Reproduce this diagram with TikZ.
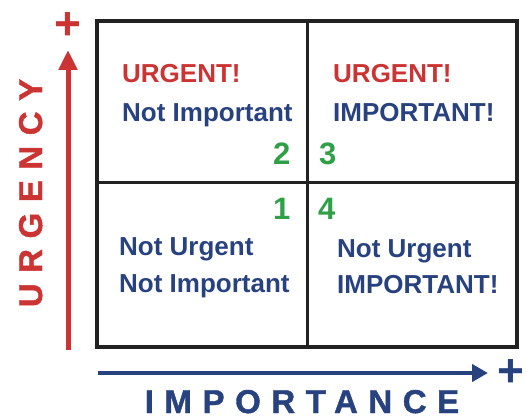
\documentclass[tikz,border=0pt]{standalone}
\usepackage{fontspec}
\setmainfont{Liberation Sans}
\usetikzlibrary{arrows.meta}

\definecolor{urgred}{RGB}{204,52,52}
\definecolor{impblue}{RGB}{40,66,128}
\definecolor{numgreen}{RGB}{48,160,72}
\definecolor{gridline}{RGB}{34,34,34}

\tikzset{
  quad/.style={anchor=base west, inner sep=0pt, font=\fontsize{26}{26}\selectfont\bfseries},
  num/.style={anchor=base west, inner sep=0pt, text=numgreen, font=\fontsize{31}{31}\selectfont\bfseries},
  axislabel/.style={anchor=base, inner sep=0pt, font=\fontsize{33}{33}\selectfont\bfseries\addfontfeature{LetterSpace=32,FakeBold=1.2}},
  plus/.style={inner sep=0pt, font=\fontsize{46}{46}\selectfont\bfseries},
}

\begin{document}
\begin{tikzpicture}[x=1pt, y=-1pt]
            \useasboundingbox (0,0) rectangle (526,419);

            % 四象限网格
            \draw[gridline, line width=4pt] (97,21) rectangle (517,347);
            \draw[gridline, line width=3pt] (307,21) -- (307,347);
            \draw[gridline, line width=3pt] (97,183) -- (517,183);

            % 左上: 紧急 不重要
            \node[quad, text=urgred] (tlA) at (122,83) {URGENT!};
            \node[quad, text=impblue] (tlB) at (122,122) {Not Important};

            % 右上: 紧急 重要
            \node[quad, text=urgred] (trA) at (333,83) {URGENT!};
            \node[quad, text=impblue] (trB) at (333,122) {IMPORTANT!};

            % 左下: 不紧急 不重要
            \node[quad, text=impblue] (blA) at (119,255) {Not Urgent};
            \node[quad, text=impblue] (blB) at (119,292) {Not Important};

            % 右下: 不紧急 重要
            \node[quad, text=impblue] (brA) at (337,257) {Not Urgent};
            \node[quad, text=impblue] (brB) at (337,293) {IMPORTANT!};

            % 象限编号
            \node[num] (n2) at (273,165) {2};
            \node[num] (n3) at (319,165) {3};
            \node[num] (n1) at (273,220) {1};
            \node[num] (n4) at (318,220) {4};

            % 纵轴: 紧急程度
            \coordinate (uLow) at (68,350);
            \coordinate (uHigh) at (68,50);
            \draw[urgred, line width=5pt, -{Triangle[length=20pt, width=18pt]}] (uLow) -- (uHigh);
            \node[plus, text=urgred] (uPlus) at (68,26) {+};
            \node[axislabel, text=urgred, rotate=90] (urgency) at (42,193) {URGENCY};

            % 横轴: 重要程度
            \coordinate (iLow) at (98,373);
            \coordinate (iHigh) at (488,373);
            \draw[impblue, line width=4pt, -{Triangle[length=16pt, width=17pt]}] (iLow) -- (iHigh);
            \node[plus, text=impblue] (iPlus) at (511,373) {+};
            \node[axislabel, text=impblue] (importance) at (302,413) {IMPORTANCE};
\end{tikzpicture}
\end{document}
